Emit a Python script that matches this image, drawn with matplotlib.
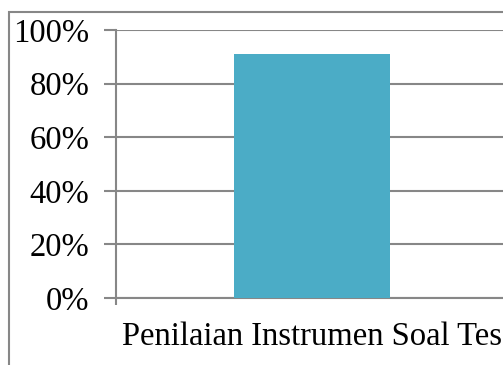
import matplotlib.pyplot as plt
from matplotlib.patches import Rectangle
from matplotlib.ticker import FuncFormatter

categories = ["Penilaian Instrumen Soal Tes"]
values = [91]
yticks = [0, 20, 40, 60, 80, 100]

grey = "#878787"
bar_color = "#4BACC6"

plt.rcParams["font.family"] = ["Liberation Serif", "DejaVu Serif"]

fig = plt.figure(figsize=(5.03, 3.65), dpi=100)

# chart area border (cut off at right and bottom like the source)
fig.patches.append(Rectangle((9 / 503, -0.1), 1.0, 1 - 12 / 365 + 0.1,
                             transform=fig.transFigure, fill=False,
                             edgecolor=grey, linewidth=1.5))

ax = fig.add_axes([116 / 503, 1 - 298 / 365, 392 / 503, 268 / 365])

x = list(range(len(categories)))
ax.bar(x, values, width=0.4, color=bar_color, zorder=3)

ax.set_xlim(-0.5, len(categories) - 0.5)
ax.set_ylim(0, 100)
ax.set_yticks(yticks)
ax.yaxis.set_major_formatter(FuncFormatter(lambda v, p: f"{v:.0f}%"))
ax.grid(axis="y", color=grey, linewidth=1.5, zorder=0)

ax.set_xticks([-0.5, len(categories) - 0.5])
ax.set_xticklabels([])
ax.set_xticks(x, minor=True)
ax.set_xticklabels(categories, minor=True)
ax.tick_params(axis="x", which="major", length=5, width=1.5, color=grey)
ax.tick_params(axis="x", which="minor", length=0, pad=17, labelsize=23.5)
ax.tick_params(axis="y", length=9, width=1.5, color=grey, labelsize=23.5, pad=10)

for s in ["top", "right"]:
    ax.spines[s].set_visible(False)
for s in ["left", "bottom"]:
    ax.spines[s].set_color(grey)
    ax.spines[s].set_linewidth(1.5)

fig.savefig("out.png", dpi=100)
